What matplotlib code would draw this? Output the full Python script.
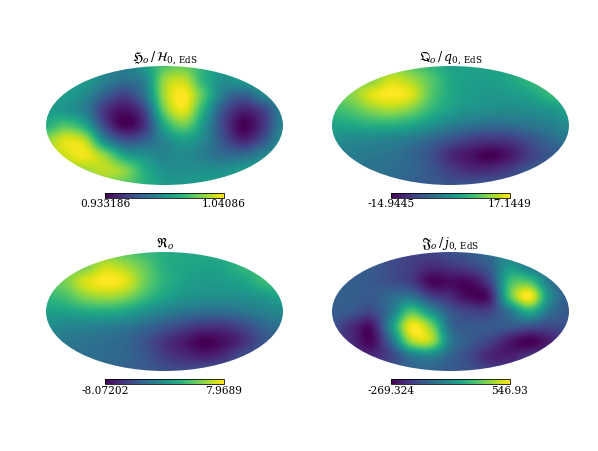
import numpy as np
import matplotlib
matplotlib.use('Agg')
import matplotlib.pyplot as plt
from matplotlib.patches import Ellipse

plt.rcParams['font.family'] = 'DejaVu Serif'
plt.rcParams['mathtext.fontset'] = 'dejavuserif'
plt.rcParams['font.size'] = 10

W, H = 598, 451

# map values sampled on a 13x9 grid over the map plane, as position on each colour scale (0-1)
h_frac = [
    [.55, .55, .55, .45, .42, .55, .72, .76, .64, .55, .55, .55, .55],
    [.55, .55, .55, .44, .37, .45, .84, .90, .64, .50, .55, .55, .55],
    [.55, .55, .47, .30, .20, .38, .86, 1.0, .72, .40, .30, .45, .50],
    [.55, .52, .42, .15, .05, .22, .78, .96, .62, .26, .10, .20, .45],
    [.62, .72, .58, .20, .00, .15, .60, .78, .52, .20, .00, .15, .45],
    [.82, .95, .88, .45, .25, .30, .46, .56, .46, .25, .10, .25, .50],
    [.85, .93, .98, .82, .57, .50, .45, .48, .42, .35, .35, .45, .50],
    [.85, .85, .86, .90, .82, .62, .50, .50, .50, .50, .55, .55, .55],
    [.80, .80, .80, .80, .74, .64, .55, .53, .55, .55, .58, .58, .58],
]
q_frac = [
    [.80, .80, .78, .80, .74, .66, .58, .58, .58, .60, .65, .65, .65],
    [.80, .80, .82, .93, .87, .74, .60, .56, .56, .59, .66, .68, .68],
    [.78, .82, .95, 1.0, .95, .74, .60, .55, .53, .54, .57, .66, .70],
    [.68, .73, .82, .86, .80, .66, .56, .51, .49, .48, .49, .52, .57],
    [.58, .60, .63, .63, .59, .51, .43, .38, .35, .36, .39, .43, .48],
    [.50, .47, .46, .44, .40, .33, .25, .18, .15, .17, .25, .33, .39],
    [.42, .42, .40, .38, .33, .25, .12, .05, .00, .06, .18, .27, .30],
    [.37, .37, .37, .36, .33, .27, .18, .12, .12, .18, .27, .30, .30],
    [.33, .33, .33, .33, .30, .28, .26, .26, .27, .28, .30, .30, .30],
]
r_frac = [
    [.78, .78, .76, .78, .74, .68, .62, .60, .60, .62, .66, .68, .68],
    [.78, .78, .80, .92, .87, .76, .63, .59, .57, .59, .66, .68, .68],
    [.76, .80, .94, 1.0, .96, .78, .64, .57, .54, .55, .58, .67, .70],
    [.66, .71, .82, .86, .82, .69, .58, .52, .50, .49, .50, .53, .58],
    [.57, .58, .61, .62, .59, .51, .44, .39, .36, .36, .39, .44, .48],
    [.48, .46, .44, .43, .40, .34, .27, .20, .15, .15, .22, .32, .38],
    [.40, .40, .38, .36, .33, .26, .15, .07, .00, .04, .13, .26, .30],
    [.36, .36, .36, .35, .33, .27, .18, .12, .08, .13, .24, .30, .30],
    [.32, .32, .32, .32, .30, .28, .25, .23, .25, .27, .29, .30, .30],
]
j_frac = [
    [.30, .30, .28, .24, .20, .20, .25, .28, .36, .45, .40, .35, .32],
    [.30, .30, .28, .23, .18, .12, .15, .20, .30, .53, .42, .35, .32],
    [.30, .30, .28, .24, .18, .02, .03, .03, .20, .68, .72, .40, .30],
    [.30, .30, .28, .35, .38, .20, .12, .02, .08, .72, 1.0, .50, .28],
    [.30, .27, .22, .40, .72, .50, .28, .20, .20, .40, .62, .38, .27],
    [.25, .13, .05, .50, .98, .82, .35, .28, .28, .28, .25, .22, .25],
    [.20, .12, .02, .35, .85, .88, .42, .28, .20, .07, .00, .08, .20],
    [.20, .15, .12, .20, .40, .45, .32, .22, .10, .08, .15, .20, .25],
    [.25, .25, .25, .28, .32, .32, .28, .25, .20, .18, .22, .25, .25],
]

panels = [
    (h_frac, r'$\mathfrak{H}_o\,/\,\mathcal{H}_{0,\,\mathrm{EdS}}$', 0.933186, 1.04086, '0.933186', '1.04086', 46, 66),
    (q_frac, r'$\mathfrak{Q}_o\,/\,q_{0,\,\mathrm{EdS}}$', -14.9445, 17.1449, '-14.9445', '17.1449', 332, 66),
    (r_frac, r'$\mathfrak{R}_o$', -8.07202, 7.9689, '-8.07202', '7.9689', 46, 252),
    (j_frac, r'$\mathfrak{J}_o\,/\,j_{0,\,\mathrm{EdS}}$', -269.324, 546.93, '-269.324', '546.93', 332, 252),
]

fig = plt.figure(figsize=(W / 72, H / 72), dpi=72)

for frac, title, vmin, vmax, lo, hi, left, top in panels:
    values = vmin + np.array(frac) * (vmax - vmin)
    ax = fig.add_axes([left / W, 1 - (top + 119) / H, 237 / W, 119 / H])
    im = ax.imshow(values, cmap='viridis', vmin=vmin, vmax=vmax, interpolation='catrom',
                   interpolation_stage='data', extent=[-2 - 1 / 6, 2 + 1 / 6, -1.125, 1.125], aspect='auto')
    ax.set_xlim(-2, 2)
    ax.set_ylim(-1, 1)
    im.set_clip_path(Ellipse((0, 0), 4, 2, transform=ax.transData))
    ax.axis('off')
    ax.set_title(title, fontsize=12.5, pad=0)

    cax = fig.add_axes([(left + 59) / W, 1 - (top + 132) / H, 119 / W, 5 / H])
    cb = fig.colorbar(im, cax=cax, orientation='horizontal', ticks=[vmin, vmax])
    cb.ax.set_xticklabels([lo, hi])
    cb.ax.tick_params(length=0, pad=1.5, labelsize=10.5)
    cb.outline.set_linewidth(0.8)

fig.savefig('out.png', dpi=72)
